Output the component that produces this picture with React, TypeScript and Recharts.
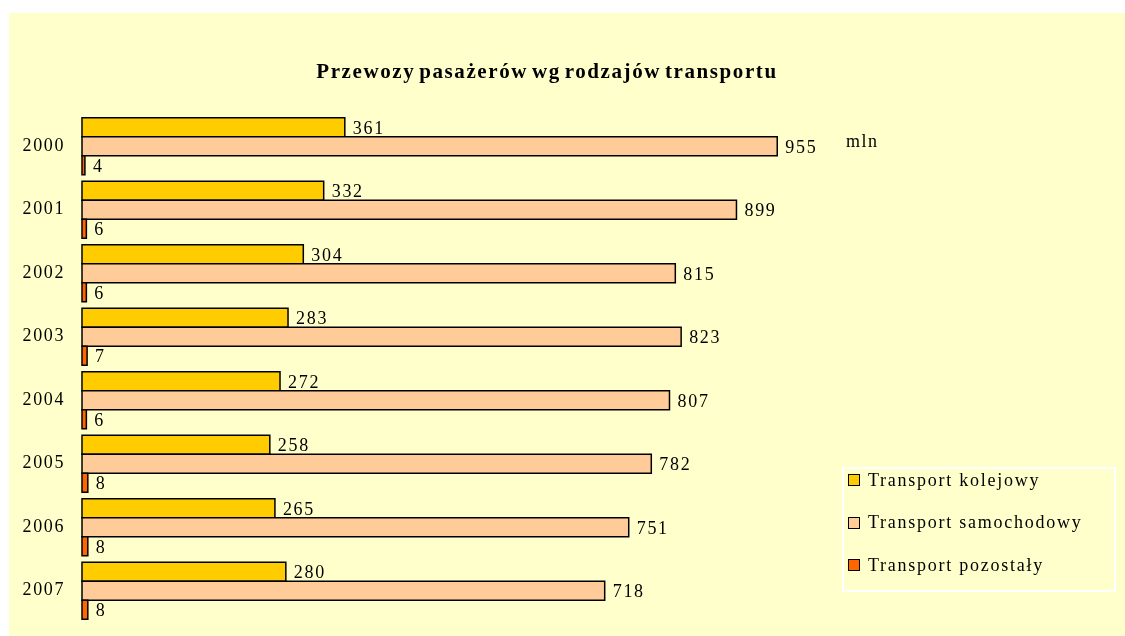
import { BarChart, Bar, XAxis, YAxis, LabelList } from "recharts";

const years = ["2000", "2001", "2002", "2003", "2004", "2005", "2006", "2007"];
const kolejowy = [361, 332, 304, 283, 272, 258, 265, 280];
const samochodowy = [955, 899, 815, 823, 807, 782, 751, 718];
const pozostaly = [4, 6, 6, 7, 6, 8, 8, 8];

const SERIES = [
  { key: "kolejowy", label: "Transport kolejowy", color: "#FFCC00" },
  { key: "samochodowy", label: "Transport samochodowy", color: "#FFCC99" },
  { key: "pozostaly", label: "Transport pozostały", color: "#FF6600" },
];

const FONT = '"Liberation Serif", "Times New Roman", serif';

const chartData = years.map((y, i) => ({
  year: y,
  kolejowy: kolejowy[i],
  samochodowy: samochodowy[i],
  pozostaly: pozostaly[i],
}));

function YearTick({ x, y, payload }: any) {
  return (
    <text
      x={x - 9}
      y={y}
      dy={5}
      textAnchor="end"
      fontFamily={FONT}
      fontSize={18}
      letterSpacing={1.6}
      fill="#000"
    >
      {payload.value}
    </text>
  );
}

function LegendBox() {
  return (
    <div
      style={{
        position: "fixed",
        left: 842,
        top: 467,
        width: 274,
        height: 125,
        border: "2px solid #fff",
        boxSizing: "border-box",
        paddingLeft: 4,
        fontFamily: FONT,
        fontSize: 18,
        letterSpacing: 1.75,
        color: "#000",
      }}
    >
      <div style={{ position: "relative", top: -10 }}>
        {SERIES.map((s) => (
          <div key={s.key} style={{ display: "flex", alignItems: "center", height: 42.5 }}>
            <span
              style={{
                display: "inline-block",
                width: 10,
                height: 10,
                background: s.color,
                border: "1.5px solid #000",
                marginRight: 8,
              }}
            />
            <span>{s.label}</span>
          </div>
        ))}
      </div>
    </div>
  );
}

export default function App() {
  return (
    <div>
      <div
        style={{
          position: "fixed",
          left: 9,
          top: 13,
          width: 1300,
          height: 800,
          background: "#FFFFCC",
        }}
      />
      <div
        style={{
          position: "fixed",
          left: 0,
          width: 1094,
          top: 59,
          textAlign: "center",
          fontFamily: FONT,
          fontWeight: "bold",
          fontSize: 21,
          letterSpacing: 1.6,
          wordSpacing: -3,
          color: "#000",
        }}
      >
        Przewozy pasażerów wg rodzajów transportu
      </div>
      <div
        style={{
          position: "fixed",
          left: 846,
          top: 131,
          fontFamily: FONT,
          fontSize: 18,
          letterSpacing: 1.5,
          color: "#000",
        }}
      >
        mln
      </div>
      <LegendBox />
      <div style={{ position: "fixed", left: 0, top: 0 }}>
        <BarChart
          width={1125}
          height={636}
          data={chartData}
          layout="vertical"
          margin={{ top: 114, right: 315, bottom: 14, left: 0 }}
          barGap={0}
          barCategoryGap={3.75}
        >
          <XAxis type="number" domain={[0, 1000]} hide />
          <YAxis
            type="category"
            dataKey="year"
            width={82}
            axisLine={false}
            tickLine={false}
            tick={<YearTick />}
            interval={0}
          />
          {SERIES.map((s) => (
            <Bar
              key={s.key}
              dataKey={s.key}
              name={s.label}
              fill={s.color}
              stroke="#000"
              strokeWidth={1.5}
              isAnimationActive={false}
            >
              <LabelList
                dataKey={s.key}
                position="right"
                offset={8}
                fill="#000"
                fontFamily={FONT}
                fontSize={18}
                letterSpacing={1.7}
              />
            </Bar>
          ))}
        </BarChart>
      </div>
    </div>
  );
}
